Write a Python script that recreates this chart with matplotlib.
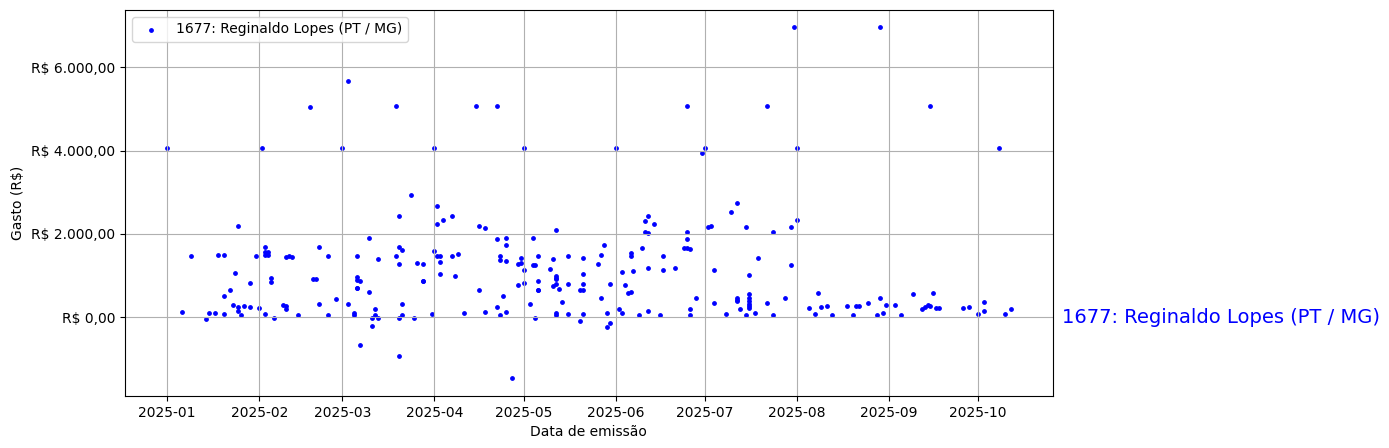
import matplotlib
matplotlib.use("Agg")
import matplotlib.pyplot as plt
import matplotlib.dates as mdates
import matplotlib.transforms as mtransforms
from matplotlib.ticker import FuncFormatter, MultipleLocator
import pandas as pd

label = "1677: Reginaldo Lopes (PT / MG)"

datas = [
    # janeiro
    "2025-01-01", "2025-01-06", "2025-01-09", "2025-01-14", "2025-01-15", "2025-01-17",
    "2025-01-18", "2025-01-20", "2025-01-20", "2025-01-20", "2025-01-22", "2025-01-23",
    "2025-01-24", "2025-01-25", "2025-01-25", "2025-01-25", "2025-01-26", "2025-01-27",
    "2025-01-29", "2025-01-29", "2025-01-31", "2025-02-01",
    # fevereiro
    "2025-02-02", "2025-02-03", "2025-02-03", "2025-02-03", "2025-02-03", "2025-02-04",
    "2025-02-04", "2025-02-05", "2025-02-05", "2025-02-06", "2025-02-09", "2025-02-10",
    "2025-02-10", "2025-02-10", "2025-02-11", "2025-02-12", "2025-02-14", "2025-02-18",
    "2025-02-19", "2025-02-20", "2025-02-21", "2025-02-21", "2025-02-24", "2025-02-24",
    "2025-02-27",
    # marco
    "2025-03-01", "2025-03-03", "2025-03-03", "2025-03-05", "2025-03-05", "2025-03-06",
    "2025-03-06", "2025-03-06", "2025-03-06", "2025-03-06", "2025-03-07", "2025-03-07",
    "2025-03-10", "2025-03-10", "2025-03-11", "2025-03-11", "2025-03-12", "2025-03-12",
    "2025-03-13", "2025-03-13", "2025-03-19", "2025-03-19", "2025-03-20", "2025-03-20",
    "2025-03-20", "2025-03-20", "2025-03-20", "2025-03-21", "2025-03-21", "2025-03-21",
    "2025-03-24", "2025-03-25", "2025-03-26", "2025-03-28", "2025-03-28", "2025-03-28",
    "2025-03-31",
    # abril
    "2025-04-01", "2025-04-01", "2025-04-02", "2025-04-02", "2025-04-02", "2025-04-03",
    "2025-04-03", "2025-04-03", "2025-04-04", "2025-04-07", "2025-04-07", "2025-04-08",
    "2025-04-09", "2025-04-11", "2025-04-15", "2025-04-16", "2025-04-16", "2025-04-18",
    "2025-04-18", "2025-04-22", "2025-04-22", "2025-04-22", "2025-04-23", "2025-04-23",
    "2025-04-23", "2025-04-24", "2025-04-25", "2025-04-25", "2025-04-25", "2025-04-25",
    "2025-04-27", "2025-04-29", "2025-04-29", "2025-04-30", "2025-04-30",
    # maio
    "2025-05-01", "2025-05-01", "2025-05-01", "2025-05-03", "2025-05-04", "2025-05-04",
    "2025-05-05", "2025-05-05", "2025-05-06", "2025-05-06", "2025-05-06", "2025-05-06",
    "2025-05-10", "2025-05-11", "2025-05-11", "2025-05-12", "2025-05-12", "2025-05-12",
    "2025-05-12", "2025-05-12", "2025-05-12", "2025-05-12", "2025-05-13", "2025-05-14",
    "2025-05-16", "2025-05-16", "2025-05-16", "2025-05-20", "2025-05-20", "2025-05-21",
    "2025-05-21", "2025-05-21", "2025-05-21", "2025-05-21", "2025-05-26", "2025-05-27",
    "2025-05-27", "2025-05-28", "2025-05-29", "2025-05-29", "2025-05-30", "2025-05-30",
    # junho
    "2025-06-01", "2025-06-02", "2025-06-03", "2025-06-03", "2025-06-04", "2025-06-05",
    "2025-06-06", "2025-06-06", "2025-06-06", "2025-06-07", "2025-06-09", "2025-06-10",
    "2025-06-11", "2025-06-11", "2025-06-12", "2025-06-12", "2025-06-12", "2025-06-12",
    "2025-06-14", "2025-06-16", "2025-06-17", "2025-06-17", "2025-06-21", "2025-06-24",
    "2025-06-25", "2025-06-25", "2025-06-25", "2025-06-25", "2025-06-26", "2025-06-26",
    "2025-06-26", "2025-06-28", "2025-06-30",
    # julho
    "2025-07-01", "2025-07-02", "2025-07-03", "2025-07-04", "2025-07-04", "2025-07-08",
    "2025-07-10", "2025-07-12", "2025-07-12", "2025-07-12", "2025-07-12", "2025-07-13",
    "2025-07-15", "2025-07-15", "2025-07-16", "2025-07-16", "2025-07-16", "2025-07-16",
    "2025-07-16", "2025-07-16", "2025-07-16", "2025-07-18", "2025-07-19", "2025-07-22",
    "2025-07-22", "2025-07-24", "2025-07-24", "2025-07-28", "2025-07-30", "2025-07-30",
    "2025-07-31",
    # agosto
    "2025-08-01", "2025-08-01", "2025-08-05", "2025-08-07", "2025-08-08", "2025-08-09",
    "2025-08-11", "2025-08-13", "2025-08-18", "2025-08-20", "2025-08-21", "2025-08-22",
    "2025-08-25", "2025-08-28", "2025-08-29", "2025-08-29", "2025-08-30", "2025-08-31",
    # setembro
    "2025-09-03", "2025-09-05", "2025-09-09", "2025-09-12", "2025-09-13", "2025-09-14",
    "2025-09-15", "2025-09-15", "2025-09-16", "2025-09-17", "2025-09-18", "2025-09-26",
    "2025-09-28",
    # outubro
    "2025-10-01", "2025-10-03", "2025-10-03", "2025-10-08", "2025-10-10", "2025-10-12",
]

gastos = [
    # janeiro
    4070, 113, 1463, -41, 89, 89,
    1487, 1487, 499, 65, 643, 282,
    1053, 2186, 234, 137, 41, 258,
    812, 234, 1463, 210,
    # fevereiro
    4070, 1680, 1560, 1480, 65, 1550,
    1480, 933, 836, -31, 282, 258,
    185, 1450, 1460, 1450, 41, 5054,
    909, 909, 1680, 306, 1463, 41,
    426,
    # marco
    4070, 5680, 306, 89, 41, 1463,
    957, 885, 687, 687, 860, -682,
    1897, 595, -31, -224, 185, 41,
    1390, -31, 5078, 1463, 2427, 1680,
    1270, -31, -947, 1607, 306, 41,
    2933, -31, 1294, 1270, 872, 872,
    65,
    # abril
    4070, 1583, 2668, 2234, 1463, 1463,
    1318, 1029, 2330, 2427, 1463, 981,
    1511, 89, 5078, 2186, 643, 2138,
    113, 5078, 1873, 234, 1463, 1366,
    41, 499, 1897, 1728, 1342, 113,
    -1477, 1270, 764, 1415, 1294,
    # maio
    4070, 1125, 812, 306, 1897, 1246,
    1246, -31, 1463, 860, 643, 643,
    1150, 1390, 740, 2089, 981, 933,
    909, 788, 89, 41, 667, 354,
    1463, 788, 65, 643, -104, 1415,
    1029, 788, 643, 65, 1270, 1487,
    451, 1728, 89, -248, 788, -152,
    # junho
    4070, 185, 1077, 89, 764, 571,
    1535, 1463, 595, 1102, 41, 1656,
    2306, 2041, 2427, 2017, 1174, 137,
    2234, 41, 1463, 1125, 1174, 1650,
    5078, 2041, 1873, 1660, 1640, 185,
    41, 451, 3935,
    # julho
    4070, 2162, 2186, 1125, 330, 65,
    2523, 2740, 451, 403, 379, 185,
    2162, 41, 1005, 547, 451, 378,
    306, 258, 210, 89, 1415, 5078,
    330, 2041, 41, 451, 2162, 1246,
    6958,
    # agosto
    4070, 2330, 210, 65, 571, 234,
    258, 41, 258, 41, 258, 258,
    330, 41, 6958, 451, 89, 282,
    # setembro
    282, 41, 547, 185, 234, 282,
    5078, 258, 571, 210, 210, 210,
    234,
    # outubro
    65, 354, 137, 4070, 65, 185,
]

datas = pd.to_datetime(datas)


def reais(v, pos):
    s = f"{v:,.2f}".replace(",", "X").replace(".", ",").replace("X", ".")
    return f"R$ {s}"


fig, ax = plt.subplots(figsize=(13.89, 4.48), dpi=100)
fig.subplots_adjust(left=0.09, right=0.758, bottom=0.116, top=0.978)

ax.scatter(datas, gastos, s=6, color="blue", label=label)

ax.xaxis.set_major_locator(mdates.MonthLocator())
ax.xaxis.set_major_formatter(mdates.DateFormatter("%Y-%m"))
ax.yaxis.set_major_locator(MultipleLocator(2000))
ax.yaxis.set_major_formatter(FuncFormatter(reais))

ax.set_xlabel("Data de emissão")
ax.set_ylabel("Gasto (R$)")
ax.grid(True)
ax.legend(loc="upper left")

trans = mtransforms.blended_transform_factory(ax.transAxes, ax.transData)
ax.text(1.01, 0, label, transform=trans, color="blue", fontsize=14, va="center", ha="left")

fig.savefig("out.png", dpi=100)
plt.close(fig)
